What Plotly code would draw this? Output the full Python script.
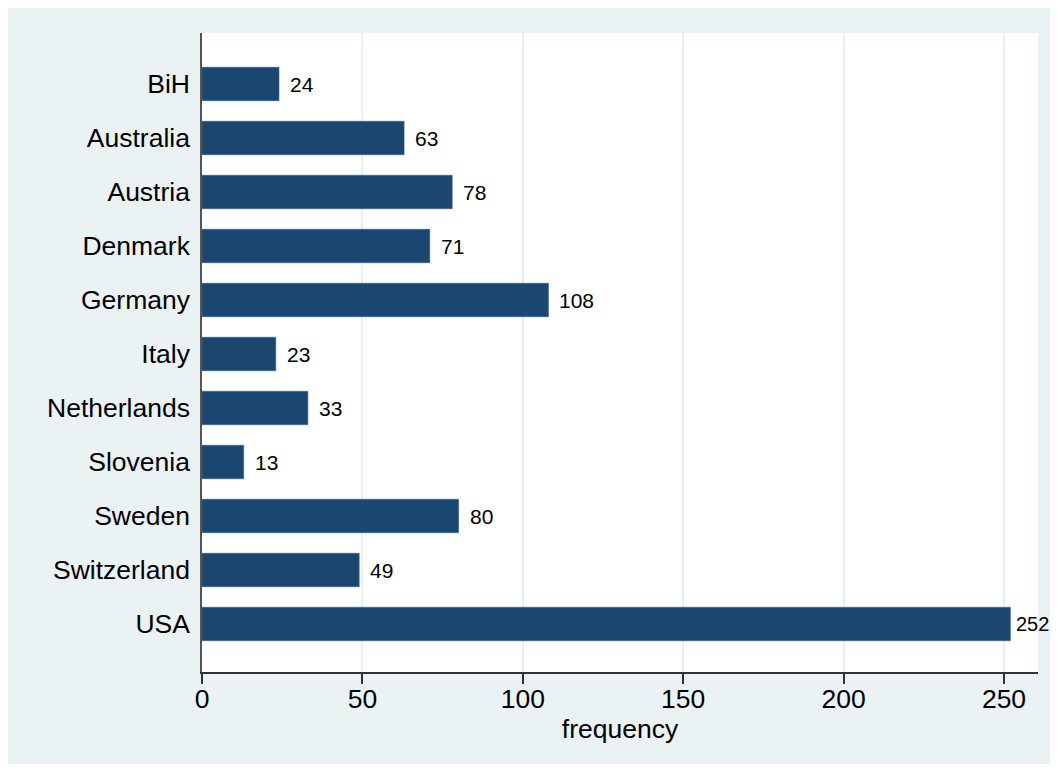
import plotly.graph_objects as go

countries = ["BiH", "Australia", "Austria", "Denmark", "Germany", "Italy",
             "Netherlands", "Slovenia", "Sweden", "Switzerland", "USA"]
frequency = [24, 63, 78, 71, 108, 23, 33, 13, 80, 49, 252]
x_ticks = [0, 50, 100, 150, 200, 250]

BAR = "#1a476f"
BG = "#eaf2f3"
FONT = "Liberation Sans, Arial, Helvetica, sans-serif"

# page has an 8px body margin; figure coordinates = page coordinates - 8
OFF = 8
W, H = 1058 - OFF, 772 - 2 * OFF
L, R, T, B = 202 - OFF, 1038 - OFF, 33 - OFF, 672 - OFF
PX_PER_UNIT = (1004 - 202) / 250
VISIBLE_RIGHT = 1048  # page px

fig = go.Figure()
fig.add_trace(go.Bar(
    x=frequency, y=countries, orientation="h",
    marker=dict(color=BAR, line=dict(color="#3d6488", width=0.6)),
    width=0.62, hoverinfo="x+y",
))

for c, v in zip(countries, frequency):
    size, shift = 21, 9
    end = 202 + v * PX_PER_UNIT + shift + len(str(v)) * 0.556 * size
    if end > VISIBLE_RIGHT:
        size = 20
        shift = int(VISIBLE_RIGHT - (202 + v * PX_PER_UNIT) - len(str(v)) * 0.556 * size)
    fig.add_annotation(x=v, y=c, text=str(v), showarrow=False,
                       xanchor="left", yanchor="middle", xshift=shift,
                       font=dict(family=FONT, size=size, color="#000"))

fig.update_layout(
    width=W, height=H,
    margin=dict(l=L, r=W - R, t=T, b=H - B),
    paper_bgcolor=BG, plot_bgcolor="white",
    font=dict(family=FONT, size=26, color="#000"),
    showlegend=False,
)
fig.update_xaxes(
    range=[0, (1038 - 202) / PX_PER_UNIT],
    tickvals=x_ticks, ticktext=[str(t) for t in x_ticks],
    showgrid=True, gridcolor="#e8f0f1", gridwidth=1.5,
    showline=True, linecolor="#333333", linewidth=1.5,
    ticks="outside", ticklen=10, tickwidth=1.5, tickcolor="#333333",
    ticklabelstandoff=-8,
    tickfont=dict(size=26.5),
    title=dict(text="frequency", font=dict(size=26.5), standoff=3),
    zeroline=False,
)
fig.update_yaxes(
    categoryorder="array", categoryarray=countries,
    range=[10 + 48 / 54, -51 / 54],
    showgrid=False, showline=True, linecolor="#555555", linewidth=1.5,
    ticks="", ticklabelstandoff=5,
    tickfont=dict(size=26.5),
)

fig.write_html("out.html")
